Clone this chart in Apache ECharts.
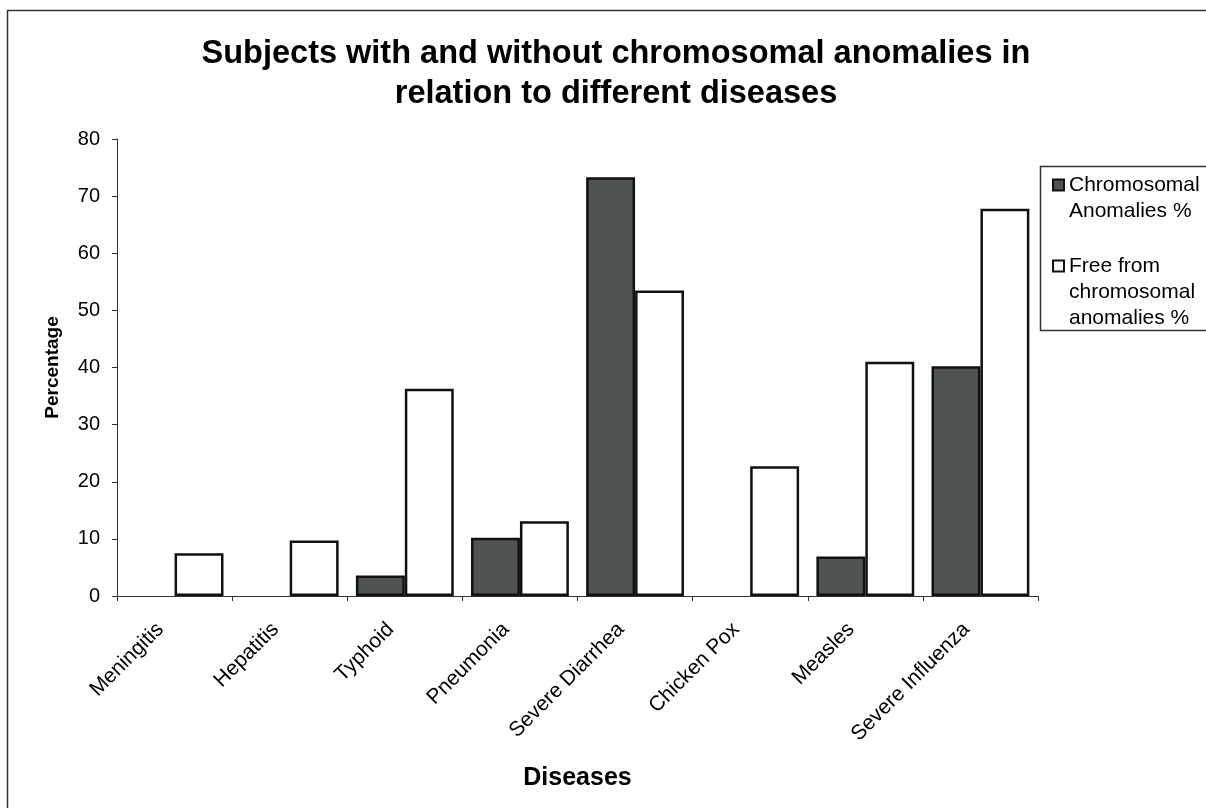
<!DOCTYPE html>
<html>
<head>
<meta charset="utf-8">
<script src="https://cdn.jsdelivr.net/npm/echarts@6/dist/echarts.min.js"></script>
<style>html,body{margin:0;padding:0;background:#fff}#c{width:1206px;height:808px}</style>
</head>
<body>
<div id="c"></div>
<script>
var categories = ['Meningitis','Hepatitis','Typhoid','Pneumonia','Severe Diarrhea','Chicken Pox','Measles','Severe Influenza'];
var chromosomalAnomalies = [0, 0, 3.6, 10.2, 73.3, 0, 6.9, 40.2];
var freeFromAnomalies = [7.5, 9.7, 36.3, 13.1, 53.5, 22.7, 41.0, 67.8];
var seriesNames = ['Chromosomal Anomalies %', 'Free from chromosomal anomalies %'];
var legendLines = [['Chromosomal', 'Anomalies %'], ['Free from', 'chromosomal', 'anomalies %']];
var yTicks = [0, 10, 20, 30, 40, 50, 60, 70, 80];

var FONT = '"Liberation Sans", Arial, sans-serif';
var chart = echarts.init(document.getElementById('c'), null, {renderer: 'canvas'});
// icon aligned with first line: pad with blank lines above so the first line sits at the block centre
function lbl(name) {
  var lines = legendLines[seriesNames.indexOf(name)];
  var pad = [];
  for (var i = 1; i < lines.length; i++) pad.push(' ');
  return pad.concat(lines).join('\n');
}
var LH = 26;
var option = {
  backgroundColor: '#fff',
  animation: false,
  title: {
    text: 'Subjects with and without chromosomal anomalies in\nrelation to different diseases',
    left: 611, top: 29, textAlign: 'center',
    textStyle: {fontFamily: FONT, fontWeight: 'bold', fontSize: 32.5, lineHeight: 40, color: '#000'}
  },
  graphic: [
    {type: 'rect', shape: {x: 7.5, y: 10.5, width: 1300, height: 900}, style: {fill: 'none', stroke: '#333', lineWidth: 1.5}, silent: true, z: -1},
    {type: 'rect', shape: {x: 1040.5, y: 166.5, width: 200, height: 164}, style: {fill: 'none', stroke: '#333', lineWidth: 1.5}, silent: true, z: -1}
  ],
  legend: [
    {data: [seriesNames[0]], orient: 'vertical', left: 1052, top: 185 - 1.5 * LH, padding: 0,
     icon: 'rect', itemWidth: 11, itemHeight: 11, formatter: lbl,
     textStyle: {fontFamily: FONT, fontSize: 21, color: '#000', lineHeight: LH}},
    {data: [seriesNames[1]], orient: 'vertical', left: 1052, top: 266 - 2.5 * LH, padding: 0,
     icon: 'rect', itemWidth: 11, itemHeight: 11, formatter: lbl,
     textStyle: {fontFamily: FONT, fontSize: 21, color: '#000', lineHeight: LH}}
  ],
  grid: {left: 117, right: 168, top: 139, bottom: 212},
  xAxis: {
    type: 'category', data: categories,
    name: 'Diseases', nameLocation: 'middle', nameGap: 170,
    nameTextStyle: {fontFamily: FONT, fontWeight: 'bold', fontSize: 25, color: '#000'},
    axisLine: {lineStyle: {color: '#333', width: 1}},
    axisTick: {show: true, length: 5, alignWithLabel: false, lineStyle: {color: '#333'}},
    axisLabel: {rotate: 45, fontFamily: FONT, fontSize: 21, color: '#000', margin: 16, interval: 0,
      padding: [0, 20, 0, 0]}
  },
  yAxis: {
    type: 'value', min: 0, max: 80, interval: 10,
    name: 'Percentage', nameLocation: 'middle', nameGap: 55, nameRotate: 90,
    nameTextStyle: {fontFamily: FONT, fontWeight: 'bold', fontSize: 19, color: '#000'},
    axisLine: {show: true, lineStyle: {color: '#333', width: 1}},
    axisTick: {show: true, length: 5, lineStyle: {color: '#333'}},
    splitLine: {show: false},
    axisLabel: {fontFamily: FONT, fontSize: 20, color: '#000', margin: 17,
      formatter: function (v) { return yTicks.indexOf(v) >= 0 ? String(v) : ''; }}
  },
  series: [
    {name: seriesNames[0], type: 'bar', barGap: '0%', barCategoryGap: '15%',
     data: chromosomalAnomalies.map(function (v) { return v === 0 ? '-' : v; }),
     itemStyle: {color: '#505450', borderColor: '#111', borderWidth: 2.5}},
    {name: seriesNames[1], type: 'bar', barGap: '0%', barCategoryGap: '15%',
     data: freeFromAnomalies,
     itemStyle: {color: '#fff', borderColor: '#111', borderWidth: 2.5}}
  ]
};
chart.setOption(option);
</script>
</body>
</html>
